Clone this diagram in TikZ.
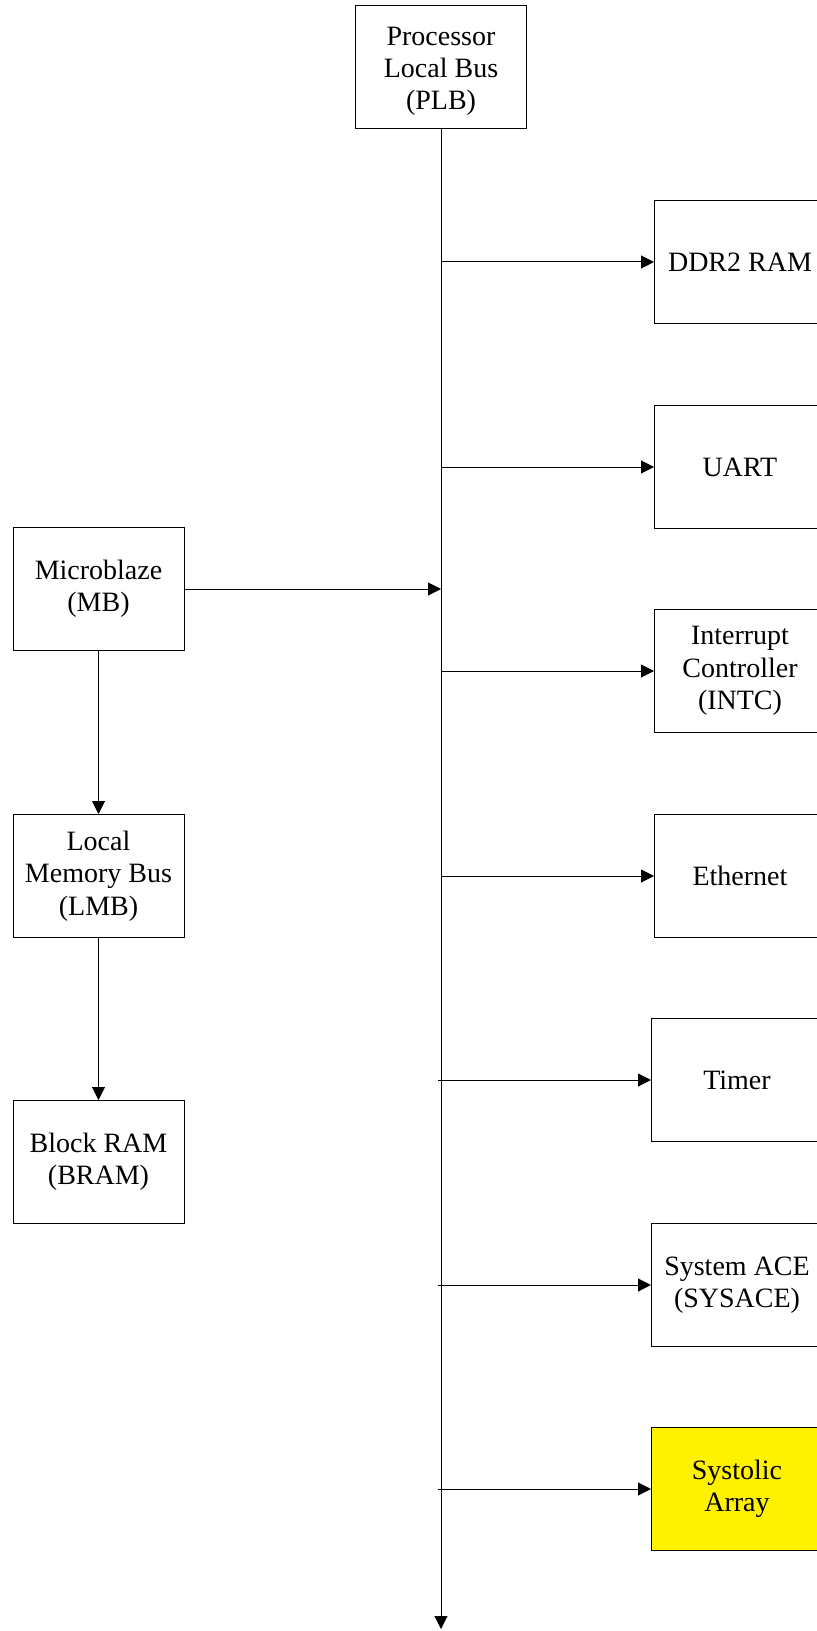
\documentclass[tikz,border=0pt]{standalone}
\usepackage{fontspec}
\setmainfont{Liberation Serif}
\usepackage{tikz}
\usetikzlibrary{arrows.meta}
\tikzset{blk/.style={draw, line width=0.5pt, minimum width=85.5pt, minimum height=61.5pt,
  align=center, font=\fontsize{14}{16.2}\selectfont},
  arr/.style={line width=0.5pt, -{Triangle[length=6.5pt, width=6.5pt]}}}

\begin{document}
\begin{tikzpicture}[x=0.5pt, y=-0.5pt]

	\useasboundingbox (0,0) rectangle (817,1631);

	\node[blk] (plb) at (441, 67.5) {\rule{0pt}{13pt}Processor\\Local Bus\\(PLB)};

	\node[blk] (ddr) at (740, 262) {DDR2 RAM};
	\node[blk] (uart) at (740, 467) {UART};
	\node[blk] (intc) at (740, 671) {Interrupt\\Controller\\(INTC)};
	\node[blk] (eth) at (740, 876) {Ethernet};
	\node[blk] (timer) at (737, 1080) {Timer};
	\node[blk] (sysace) at (737, 1285) {System ACE\\(SYSACE)};
	\node[blk, fill=yellow] (sys) at (737, 1489) {Systolic\\Array};

	\node[blk] (mb) at (98.5, 589) {Microblaze\\(MB)};
	\node[blk] (lmb) at (98.5, 876) {Local\\Memory Bus\\(LMB)};
	\node[blk] (bram) at (98.5, 1162) {Block RAM\\(BRAM)};

	\coordinate (busend) at (441, 1629);
	\draw[arr] (plb.south) -- (busend);

	\draw[arr] (plb.south |- ddr.west) -- (ddr.west);
	\draw[arr] (plb.south |- uart.west) -- (uart.west);
	\draw[arr] (plb.south |- intc.west) -- (intc.west);
	\draw[arr] (plb.south |- eth.west) -- (eth.west);
	\draw[arr] ([xshift=-1.5pt]plb.south |- timer.west) -- (timer.west);
	\draw[arr] ([xshift=-1.5pt]plb.south |- sysace.west) -- (sysace.west);
	\draw[arr] ([xshift=-1.5pt]plb.south |- sys.west) -- (sys.west);

	\draw[arr] (mb.east) -- (mb.east -| plb.south);
	\draw[arr] (mb.south) -- (lmb.north);
	\draw[arr] (lmb.south) -- (bram.north);
\end{tikzpicture}
\end{document}
